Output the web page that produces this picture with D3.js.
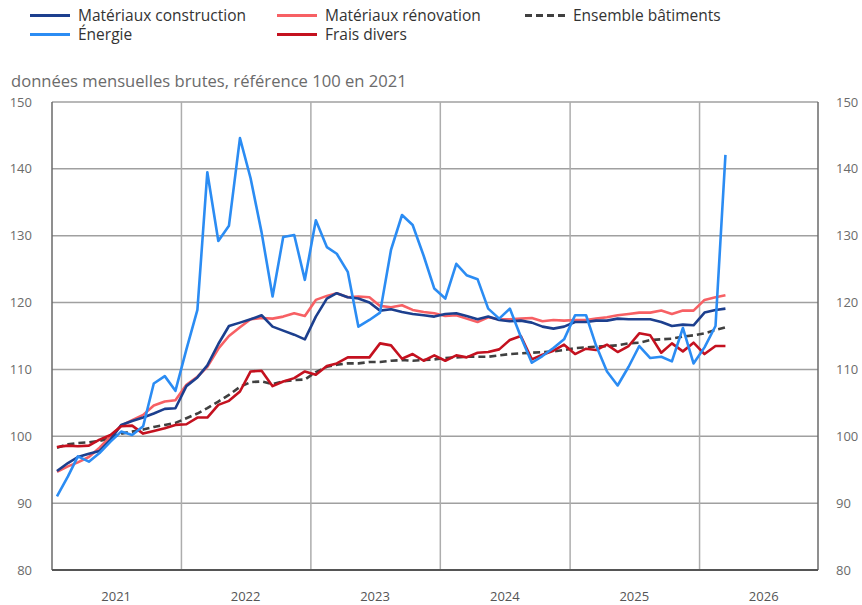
<!DOCTYPE html>
<html><head><meta charset="utf-8">
<script src="https://cdn.jsdelivr.net/npm/d3@7"></script>
<style>body{margin:0;background:#fff}svg{display:block;font-family:"Open Sans",sans-serif}</style>
</head><body><svg id="c" width="862" height="605"></svg>
<script>
const startMonth = "2021-01";
const materiauxConstruction = [94.8,96.0,96.9,97.4,97.8,99.5,101.7,102.3,102.8,103.4,104.1,104.2,
107.5,108.8,110.6,113.8,116.5,117.0,117.5,118.1,116.4,115.8,115.2,114.5,
117.9,120.6,121.4,120.8,120.6,120.0,118.8,119.0,118.6,118.3,118.1,117.9,
118.3,118.4,118.0,117.5,117.9,117.4,117.2,117.3,117.0,116.4,116.1,116.4,
117.1,117.1,117.3,117.3,117.6,117.5,117.5,117.5,117.1,116.5,116.7,116.6,
118.5,118.9,119.1];
const materiauxRenovation = [94.7,95.5,96.1,96.9,98.3,100.0,101.6,102.4,103.2,104.6,105.2,105.4,
107.7,108.9,110.4,113.1,115.0,116.3,117.5,117.7,117.6,117.9,118.4,118.0,
120.4,121.0,121.4,120.8,120.9,120.8,119.5,119.3,119.6,118.9,118.6,118.4,
118.0,118.1,117.6,117.1,117.8,117.5,117.5,117.6,117.7,117.2,117.4,117.3,
117.4,117.4,117.6,117.8,118.1,118.3,118.5,118.5,118.8,118.3,118.8,118.8,
120.4,120.8,121.1];
const ensembleBatiments = [98.3,98.8,99.0,99.1,99.3,99.7,100.4,100.7,101.0,101.4,101.7,102.0,
102.7,103.4,104.2,105.2,106.2,107.4,108.1,108.2,107.8,108.2,108.4,108.5,
109.6,110.4,110.7,110.9,110.9,111.1,111.1,111.3,111.4,111.3,111.4,111.5,
111.7,111.8,111.9,111.9,111.9,112.1,112.3,112.4,112.5,112.6,112.7,112.9,
113.2,113.3,113.4,113.5,113.6,113.9,114.0,114.4,114.5,114.6,114.9,115.1,
115.4,115.9,116.3];
const energie = [91.0,94.0,97.0,96.2,97.5,99.2,100.7,100.2,101.5,107.9,109.0,106.8,
113.0,118.9,139.5,129.2,131.5,144.6,138.6,130.5,120.9,129.8,130.1,123.4,
132.3,128.3,127.3,124.6,116.4,117.4,118.5,127.9,133.1,131.6,127.0,122.1,
120.6,125.8,124.1,123.5,119.1,117.6,119.1,114.9,111.0,112.0,113.2,114.5,
118.1,118.1,113.6,109.7,107.6,110.4,113.5,111.7,111.9,111.2,116.2,110.9,
113.3,116.5,142.1];
const fraisDivers = [98.4,98.6,98.5,98.6,99.5,100.2,101.5,101.6,100.4,100.8,101.2,101.7,
101.8,102.8,102.8,104.7,105.3,106.7,109.7,109.8,107.5,108.2,108.7,109.7,
109.2,110.5,110.9,111.8,111.8,111.8,113.9,113.6,111.6,112.3,111.3,112.1,
111.3,112.1,111.8,112.5,112.6,113.0,114.4,115.0,111.5,112.2,112.8,113.7,
112.3,113.1,112.9,113.7,112.6,113.5,115.4,115.1,112.5,113.9,112.7,114.0,
112.3,113.5,113.5];
const yTicks = [80,90,100,110,120,130,140,150];
const yearLabels = ["2021","2022","2023","2024","2025","2026"];
const subtitle = "données mensuelles brutes, référence 100 en 2021";

const series = [
  {name:"Matériaux construction", values:materiauxConstruction, color:"#1c3f8e", dash:null},
  {name:"Énergie", values:energie, color:"#2b8cf3", dash:null},
  {name:"Matériaux rénovation", values:materiauxRenovation, color:"#f76064", dash:null},
  {name:"Frais divers", values:fraisDivers, color:"#c4111f", dash:null},
  {name:"Ensemble bâtiments", values:ensembleBatiments, color:"#404040", dash:"7,4"}
];

const svg = d3.select("#c");
const pL = 52, pR = 818, pT = 102, pB = 570;
const x = d3.scaleTime().domain([new Date(2021,0,1), new Date(2026,11,1)]).range([pL,pR]);
const y = d3.scaleLinear().domain([80,150]).range([pB,pT]);
const [sy, sm] = startMonth.split("-").map(Number);
const dateOf = i => new Date(sy, sm-1+i, 15);

svg.append("g").selectAll("line").data(yTicks.filter(d=>d>80)).join("line")
  .attr("x1",pL).attr("x2",pR).attr("y1",d=>y(d)).attr("y2",d=>y(d))
  .attr("stroke","#a0a0a0").attr("stroke-width",1.5);
const yearStarts = yearLabels.slice(1).map(s=>new Date(+s,0,1));
svg.append("g").selectAll("line").data(yearStarts).join("line")
  .attr("x1",d=>x(d)).attr("x2",d=>x(d)).attr("y1",pT).attr("y2",pB)
  .attr("stroke","#adadad").attr("stroke-width",1.5);
svg.append("line").attr("x1",pL).attr("x2",pL).attr("y1",pT).attr("y2",pB).attr("stroke","#6a6a6a").attr("stroke-width",1.5);
svg.append("line").attr("x1",pR).attr("x2",pR).attr("y1",pT).attr("y2",pB).attr("stroke","#6a6a6a").attr("stroke-width",1.5);
svg.append("line").attr("x1",pL).attr("x2",pR).attr("y1",pB).attr("y2",pB).attr("stroke","#555").attr("stroke-width",2);

const lab = svg.append("g").attr("font-size",13).attr("fill","#6b6b6b");
lab.selectAll("text.l").data(yTicks).join("text").attr("class","l")
  .attr("x",32).attr("y",d=>y(d)).attr("dy","0.35em").attr("text-anchor","end").text(d=>d);
lab.selectAll("text.r").data(yTicks).join("text").attr("class","r")
  .attr("x",836).attr("y",d=>y(d)).attr("dy","0.35em").attr("text-anchor","start").text(d=>d);
svg.append("g").attr("font-size",13).attr("fill","#555").selectAll("text").data(yearLabels).join("text")
  .attr("x",d=>x(new Date(+d,6,1))).attr("y",601).attr("text-anchor","middle").text(d=>d);

svg.append("text").attr("x",11).attr("y",87).attr("font-size",16.6).attr("fill","#6b6b6b").text(subtitle);

const line = d3.line().x((d,i)=>x(dateOf(i))).y(d=>y(d));
const drawOrder = [series[4], series[2], series[0], series[3], series[1]];
drawOrder.forEach(s=>{
  svg.append("path").datum(s.values).attr("d",line).attr("fill","none")
    .attr("stroke",s.color).attr("stroke-width",2.6).attr("stroke-linejoin","round")
    .attr("stroke-dasharray",s.dash);
});

const legendItems = [
  {s:series[0], x:30, y:15.5},{s:series[1], x:30, y:34.5},
  {s:series[2], x:277, y:15.5},{s:series[3], x:277, y:34.5},
  {s:series[4], x:525, y:15.5}
];
const lg = svg.append("g");
legendItems.forEach(it=>{
  lg.append("line").attr("x1",it.x).attr("x2",it.x+40).attr("y1",it.y).attr("y2",it.y)
    .attr("stroke",it.s.color).attr("stroke-width",3).attr("stroke-dasharray",it.s.dash?"7,4":null);
  lg.append("text").attr("x",it.x+48).attr("y",it.y).attr("dy","0.35em").attr("font-size",15.5)
    .attr("fill","#333").text(it.s.name);
});
</script></body></html>
